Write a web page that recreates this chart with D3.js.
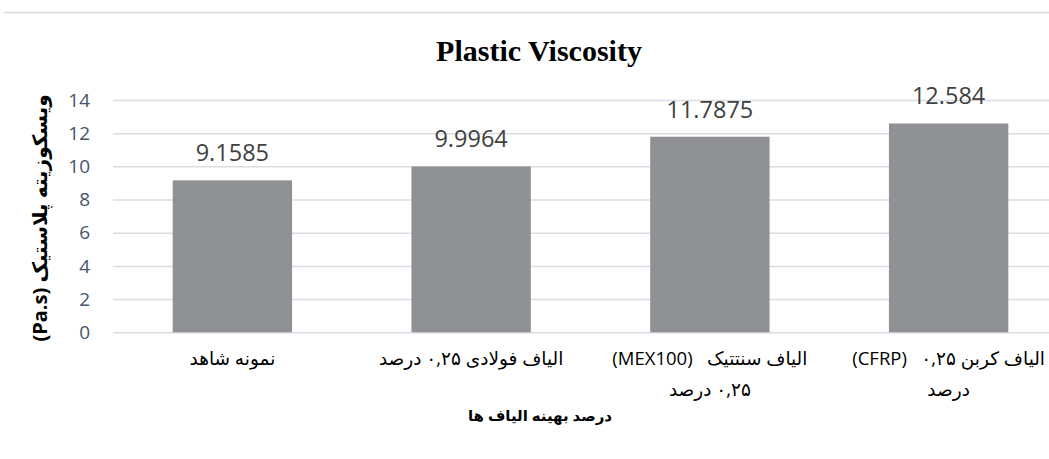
<!DOCTYPE html>
<html>
<head>
<meta charset="utf-8">
<script src="https://cdnjs.cloudflare.com/ajax/libs/d3/7.8.5/d3.min.js"></script>
<style>
  body { margin: 0; background: #fff; }
  svg { display: block; }
  .axis path { display: none; }
  .ltr { direction: ltr; unicode-bidi: isolate; }
</style>
</head>
<body>
<div id="chart"></div>
<script>
// chart values
var categories = [
	['نمونه شاهد'],
	['الیاف فولادی ۰,۲۵ درصد'],
	['الیاف سنتتیک   (MEX100)', '۰,۲۵ درصد'],
	['الیاف کربن ۰,۲۵   (CFRP)', 'درصد']
]
var values = [9.1585, 9.9964, 11.7875, 12.584]
var valueLabels = ['9.1585', '9.9964', '11.7875', '12.584']
var yTicks = [0, 2, 4, 6, 8, 10, 12, 14]

var title = 'Plastic Viscosity'
var yTitle = 'ویسکوزیته پلاستیک (Pa.s)'
var xTitle = 'درصد بهینه الیاف ها'

var width = 1049
var height = 459
var margin = {'top': 100, 'bottom': 126.7, 'left': 113, 'right': -19}

// put latin "(...)" pieces in their own ltr tspan
var fillMixed = function(sel, str) {
	str.split(/(\([A-Za-z0-9.]+\))/).forEach(function(part) {
		if (!part) return
		var ts = sel.append('tspan').text(part)
		if (/^\(/.test(part)) ts.attr('class', 'ltr')
	})
}

var svg = d3.select('#chart').append('svg')
	.attr('width', width)
	.attr('height', height)

// outer frame top edge
svg.append('line')
	.attr('x1', 4).attr('x2', width)
	.attr('y1', 12.5).attr('y2', 12.5)
	.attr('stroke', '#d9d9d9').attr('stroke-width', 1.5)

var keys = categories.map(function(d) { return d.join(' ') })

var x = d3.scaleBand()
	.domain(keys)
	.range([margin.left, width - margin.right])
	.paddingInner(0.5)
	.paddingOuter(0.25)

var y = d3.scaleLinear()
	.domain([0, 14])
	.range([height - margin.bottom, margin.top])

// y axis + gridlines
var yAxis = svg.append('g').attr('class', 'axis')
	.attr('transform', 'translate(' + margin.left + ',0)')
	.call(d3.axisLeft(y)
		.tickValues(yTicks)
		.tickSize(-(width - margin.right - margin.left))
		.tickPadding(23))

yAxis.selectAll('line')
	.attr('stroke', '#d9dde3')
	.attr('stroke-width', 1.5)

yAxis.selectAll('text')
	.attr('fill', '#44546a')
	.attr('font-family', 'Open Sans, sans-serif')
	.attr('font-size', 19)

// bars
svg.append('g').selectAll('rect')
	.data(values)
	.enter().append('rect')
	.attr('x', function(d, i) { return x(keys[i]) })
	.attr('y', function(d) { return y(d) })
	.attr('width', x.bandwidth())
	.attr('height', function(d) { return y(0) - y(d) })
	.attr('fill', '#909195')

// value labels
svg.append('g').selectAll('text')
	.data(values)
	.enter().append('text')
	.attr('x', function(d, i) { return x(keys[i]) + x.bandwidth() / 2 })
	.attr('y', function(d) { return y(d) - 19 })
	.attr('text-anchor', 'middle')
	.attr('font-family', 'Open Sans, sans-serif')
	.attr('font-size', 23.5)
	.attr('fill', '#404040')
	.text(function(d, i) { return valueLabels[i] })

// x axis labels (multi-line, rtl)
var xAxis = svg.append('g').attr('class', 'axis')
	.attr('transform', 'translate(0,' + y(0) + ')')
	.call(d3.axisBottom(x).tickSize(0).tickFormat(''))

xAxis.selectAll('.tick text').remove()

xAxis.selectAll('.tick').each(function(d, i) {
	var g = d3.select(this)
	categories[i].forEach(function(line, j) {
		var t = g.append('text')
			.attr('x', 0)
			.attr('y', 33 + j * 31)
			.attr('direction', 'rtl')
			.attr('text-anchor', 'middle')
			.attr('font-family', 'Open Sans, DejaVu Sans, sans-serif')
			.attr('font-size', 18.5)
			.attr('fill', '#000')
			.style('white-space', 'pre')
		fillMixed(t, line)
	})
})

// titles
svg.append('text')
	.attr('x', 539)
	.attr('y', 61)
	.attr('text-anchor', 'middle')
	.attr('font-family', 'Liberation Serif, serif')
	.attr('font-weight', 'bold')
	.attr('font-size', 30)
	.attr('fill', '#000')
	.text(title)

var yt = svg.append('text')
	.attr('transform', 'translate(47,218) rotate(-90)')
	.attr('direction', 'rtl')
	.attr('text-anchor', 'middle')
	.attr('font-family', 'Open Sans, DejaVu Sans, sans-serif')
	.attr('font-weight', 'bold')
	.attr('font-size', 20)
	.attr('fill', '#000')
fillMixed(yt, yTitle)

svg.append('text')
	.attr('x', 540)
	.attr('y', 421)
	.attr('direction', 'rtl')
	.attr('text-anchor', 'middle')
	.attr('font-family', 'Open Sans, DejaVu Sans, sans-serif')
	.attr('font-weight', 'bold')
	.attr('font-size', 15)
	.attr('fill', '#000')
	.text(xTitle)
</script>
</body>
</html>
